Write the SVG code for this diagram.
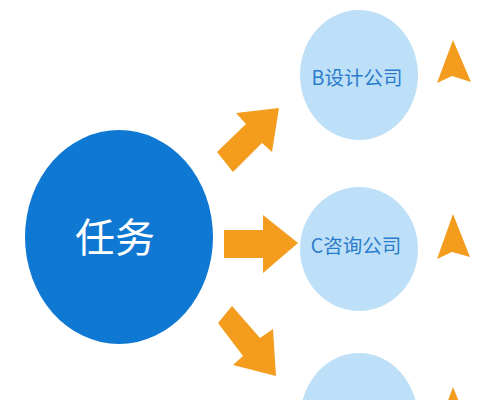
<svg xmlns="http://www.w3.org/2000/svg" width="500" height="400" viewBox="0 0 500 400">
<style>
.main{fill:#0f78d2}
.sub{fill:#bde0f8}
.arr{fill:#f39c1d}
.tri{fill:#f39c1d}
.lbl{font-family:"Noto Sans CJK SC","Liberation Sans",sans-serif;fill:#2b7ccb;font-size:19.5px;text-anchor:middle}
.big{font-family:"Noto Sans CJK SC","Liberation Sans",sans-serif;fill:#ffffff;font-size:40px;text-anchor:middle}
</style>
<rect width="500" height="400" fill="#ffffff"/>
<g id="task">
<ellipse class="main" cx="119" cy="237" rx="94" ry="107"/>
<text class="big" x="115" y="252">任务</text>
</g>
<g id="companyB">
<ellipse class="sub" cx="359" cy="75" rx="59" ry="65"/>
<text class="lbl" x="357" y="85">B设计公司</text>
</g>
<g id="companyC">
<ellipse class="sub" cx="359" cy="249" rx="59" ry="62"/>
<text class="lbl" x="356" y="253">C咨询公司</text>
</g>
<g id="companyD">
<ellipse class="sub" cx="359" cy="420" rx="59" ry="67"/>
</g>
<g id="markers">
<polygon class="tri" points="453,40 471,82 452,76 437,83"/>
<polygon class="tri" points="453,214 470,257 452,252 437,259"/>
<polygon class="tri" points="453,387 470,429 452,423 437,430"/>
</g>
<g id="connectors">
<polygon class="arr" points="279,108 272,152 262,143 233,172 217,152 246,124 236,113"/>
<polygon class="arr" points="224,230 263,230 263,215 298,243 263,273 263,258 224,258"/>
<polygon class="arr" points="276,376 233,365 243,356 218,323 232,306 260,338 273,329"/>
</g>
</svg>
